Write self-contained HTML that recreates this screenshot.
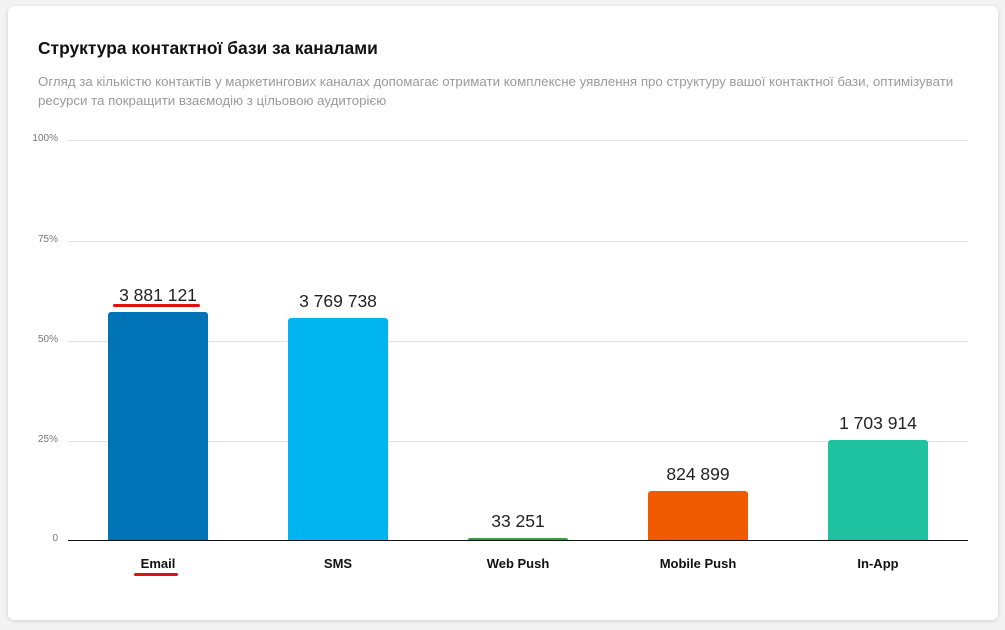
<!DOCTYPE html>
<html><head><meta charset="utf-8"><style>
body{margin:0;background:#f3f3f3;width:1005px;height:630px;position:relative;font-family:"Liberation Sans",Arial,sans-serif;overflow:hidden}
.card{position:absolute;left:8px;top:6px;width:990px;height:614px;background:#fff;border-radius:6px;box-shadow:0 1px 4px rgba(0,0,0,.15)}
.t{position:absolute;left:38px;top:38px;font-size:17.4px;font-weight:bold;color:#111}
.s{position:absolute;left:38px;top:72px;width:940px;font-size:13.3px;line-height:19px;color:#9a9a9a}
.g{position:absolute;left:68px;width:900px;height:1px;background:#e2e2e2}
.yl{position:absolute;left:0;width:58px;text-align:right;font-size:10px;color:#777}
.b{position:absolute;width:100px;border-radius:3px 3px 0 0}
.v{position:absolute;width:160px;text-align:center;font-size:17.5px;color:#222}
.c{position:absolute;top:556px;width:160px;text-align:center;font-size:13px;font-weight:bold;color:#111}
.r{position:absolute;height:3px;background:#e01010;border-radius:2px}
</style></head><body>
<div class="card"></div>
<div class="t">Структура контактної бази за каналами</div>
<div class="s">Огляд за кількістю контактів у маркетингових каналах допомагає отримати комплексне уявлення про структуру вашої контактної бази, оптимізувати ресурси та покращити взаємодію з цільовою аудиторією</div>
<div class="g" style="top:140px"></div><div class="yl" style="top:133px">100%</div>
<div class="g" style="top:241px"></div><div class="yl" style="top:234px">75%</div>
<div class="g" style="top:341px"></div><div class="yl" style="top:334px">50%</div>
<div class="g" style="top:441px"></div><div class="yl" style="top:434px">25%</div>
<div class="yl" style="top:533px">0</div>
<div class="b" style="left:108px;top:312px;height:228px;background:#0073b7"></div>
<div class="b" style="left:288px;top:318px;height:222px;background:#00b4f0"></div>
<div class="b" style="left:468px;top:538px;height:2px;background:#3a9a4a"></div>
<div class="b" style="left:648px;top:491px;height:49px;background:#f05a00"></div>
<div class="b" style="left:828px;top:440px;height:100px;background:#1fc2a0"></div>
<div class="g" style="top:540px;background:#111;height:1px"></div>
<div class="v" style="left:78px;top:285px">3 881 121</div>
<div class="v" style="left:258px;top:291px">3 769 738</div>
<div class="v" style="left:438px;top:511px">33 251</div>
<div class="v" style="left:618px;top:464px">824 899</div>
<div class="v" style="left:798px;top:413px">1 703 914</div>
<div class="c" style="left:78px">Email</div>
<div class="c" style="left:258px">SMS</div>
<div class="c" style="left:438px">Web Push</div>
<div class="c" style="left:618px">Mobile Push</div>
<div class="c" style="left:798px">In-App</div>
<div class="r" style="left:113px;top:304px;width:87px"></div>
<div class="r" style="left:134px;top:573px;width:44px"></div>
</body></html>
